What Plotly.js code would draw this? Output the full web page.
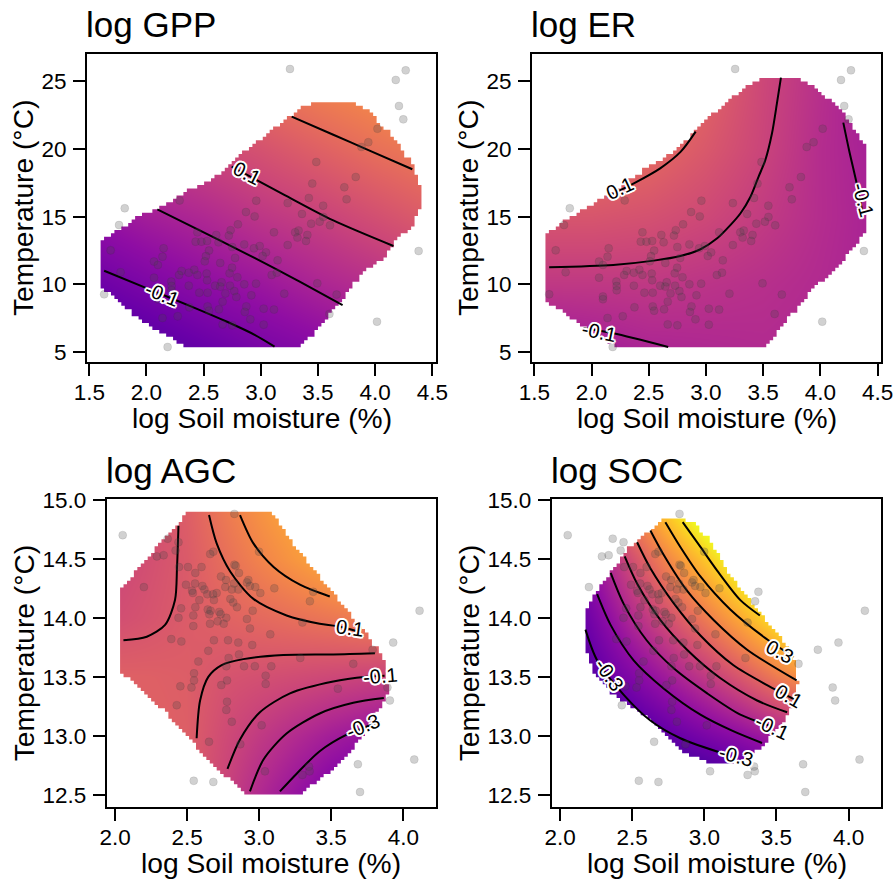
<!DOCTYPE html>
<html><head><meta charset="utf-8">
<script src="https://cdn.plot.ly/plotly-3.0.1.min.js"></script>
<style>html,body{margin:0;padding:0;background:#fff}</style></head>
<body><div id="chart" style="width:893px;height:879px"></div>
<script>
// ---------- observations ----------
const topX = [3.255,4.267,4.18,4.208,4.246,4.38,4.016,2.185,1.63,1.76,1.81,4.02,3.94,3.88,3.485,3.83,3.45,3.73,3.75,3.42,2.96,3.235,2.29,3.545,2.87,3.36,2.946,3.546,3.515,3.44,3.605,2.8,2.736,2.445,3.115,3.3,3.33,2.72,2.61,3.407,3.32,2.43,2.48,2.53,2.63,3.395,3.235,2.855,2.75,2.94,2.99,2.15,1.687,2.547,2.52,3.045,3.016,2.14,2.775,3.147,2.51,2.066,2.1,2.645,2.748,1.774,2.307,2.418,2.37,2.285,2.445,2.526,2.727,3.095,3.14,2.795,2.066,2.53,2.217,2.22,2.657,3.494,2.958,2.6,2.645,2.73,2.855,2.37,2.22,2.462,2.535,2.69,2.768,3.205,3.663,2.917,2.786,2.666,2.873,2.535,2.547,2.634,2.86,3.025,3.115,2.375,2.273,2.14,2.908,3.6,2.666,2.75,3.025,2.1,2.1];
const topY = [25.91,25.81,25.1,23.18,22.19,12.46,7.24,5.37,9.26,14.38,15.62,21.5,20.5,20.15,19.04,17.93,17.44,17.17,16.28,16.38,16.18,16.0,16.2,15.81,15.34,15.2,15.02,14.98,14.63,14.48,14.36,14.43,14.0,13.84,13.84,13.84,13.97,13.6,13.65,13.65,13.45,13.15,13.15,13.2,13.1,13.2,12.9,12.95,12.75,12.66,12.83,12.66,12.51,12.49,12.09,12.36,12.09,12.04,11.95,11.77,11.7,11.68,11.43,11.58,11.23,10.89,10.99,11.08,10.86,10.69,10.69,10.79,10.81,10.69,10.86,10.52,10.49,10.3,10.2,9.88,10.15,10.07,10.05,9.9,9.83,9.9,10.0,9.9,9.56,9.38,9.38,9.33,9.5,9.31,9.24,9.19,9.06,8.72,8.37,8.37,8.05,8.15,7.96,8.2,8.13,8.3,7.64,7.51,7.41,7.81,7.04,6.97,7.02,9.1,8.9];
const botX = [2.053,4.113,3.93,3.907,3.89,4.076,3.685,3.70,2.546,2.682,2.828,2.365,2.44,2.42,2.29,2.337,2.682,2.66,2.999,2.828,2.837,2.444,2.506,2.6,2.557,2.86,2.735,2.77,2.925,2.915,2.2,2.492,2.555,2.606,2.765,2.825,2.855,2.81,2.936,2.973,3.105,2.534,2.54,2.62,2.64,2.68,2.705,3.008,3.375,2.585,2.8,3.352,2.82,2.686,2.557,2.458,2.643,2.846,2.955,2.663,2.654,2.723,2.733,2.543,2.44,2.772,2.915,2.712,2.659,2.754,2.543,3.3,2.936,3.077,2.39,2.46,2.686,2.784,2.855,2.952,2.647,3.787,2.86,2.788,3.285,2.578,3.653,2.772,2.895,2.97,3.084,2.548,3.045,2.548,2.777,2.737,3.045,2.453,2.53,3.546,2.777,2.772,2.428,2.81,3.017,2.652,2.869,3.345,3.04,3.35,3.3];
const botY = [14.70,14.06,13.79,13.30,13.41,12.80,12.76,12.525,12.62,12.61,14.88,14.67,14.64,14.57,14.52,14.53,14.56,14.54,14.56,14.45,14.44,14.43,14.43,14.43,14.38,14.38,14.35,14.32,14.32,14.3,14.26,14.28,14.29,14.27,14.26,14.29,14.24,14.24,14.27,14.26,14.25,14.23,14.21,14.24,14.2,14.2,14.21,14.21,14.22,14.15,14.16,14.14,14.13,14.15,14.09,14.08,14.07,14.09,14.06,14.06,14.03,14.05,14.03,14.02,14.0,14.0,13.99,13.97,13.95,13.95,13.93,13.96,13.91,13.86,13.82,13.8,13.81,13.81,13.79,13.77,13.72,13.73,13.69,13.66,13.66,13.63,13.61,13.59,13.59,13.59,13.59,13.53,13.51,13.47,13.47,13.43,13.44,13.42,13.41,13.4,13.29,13.22,13.26,13.12,13.09,12.95,12.93,12.74,12.7,12.7,12.67];

// ---------- surfaces (rows follow the y arrays) ----------
const gppGridX = [1.5,2,2.5,3,3.5,4,4.5];
const gppGridY = [5,10,15,20,25];
const gppZ = [
 [-0.22,-0.19,-0.15,-0.11,-0.08,-0.04,-0.01],
 [-0.14,-0.10,-0.06,-0.03,0.01,0.04,0.08],
 [-0.05,-0.01,0.02,0.06,0.09,0.13,0.17],
 [0.04,0.07,0.11,0.14,0.18,0.22,0.25],
 [0.12,0.16,0.19,0.23,0.27,0.30,0.34]];
const erGridX = [1.5,2,2.5,3,3.5,4,4.5];
const erGridY = [5,10,15,20,26];
const erZ = [
 [-0.16,-0.13,-0.10,-0.09,-0.08,-0.09,-0.11],
 [-0.03,-0.03,-0.03,-0.045,-0.06,-0.08,-0.11],
 [0.07,0.07,0.055,0.025,-0.02,-0.07,-0.11],
 [0.18,0.17,0.14,0.08,0.01,-0.07,-0.12],
 [0.30,0.28,0.225,0.13,0.022,-0.058,-0.144]];
const botGridX = [2,2.25,2.5,2.75,3,3.25,3.5,3.75,4];
const botGridY = [12.5,13,13.5,14,14.5,15];
const agcZ = [
 [0.05,0.04,0.02,-0.09,-0.22,-0.33,-0.43,-0.50,-0.55],
 [0.05,0.045,0.03,-0.06,-0.14,-0.215,-0.28,-0.33,-0.38],
 [0.04,0.035,0.025,-0.02,-0.04,-0.06,-0.08,-0.10,-0.12],
 [-0.05,-0.02,0.015,0.045,0.075,0.105,0.135,0.17,0.20],
 [-0.09,-0.04,0.01,0.095,0.185,0.27,0.35,0.42,0.48],
 [-0.10,-0.05,0.03,0.15,0.26,0.36,0.46,0.55,0.62]];
const socZ = [
 [-0.55,-0.54,-0.53,-0.50,-0.46,-0.42,-0.38,-0.34,-0.30],
 [-0.50,-0.45,-0.39,-0.32,-0.26,-0.205,-0.14,-0.09,-0.04],
 [-0.45,-0.33,-0.24,-0.145,-0.05,0.055,0.17,0.26,0.35],
 [-0.39,-0.25,-0.10,0.035,0.17,0.31,0.46,0.60,0.74],
 [-0.36,-0.16,0.03,0.215,0.38,0.55,0.72,0.85,1.0],
 [-0.25,0.0,0.22,0.45,0.65,0.85,1.0,1.0,1.0]];

// ---------- fitted-region outlines ----------
const gppEdgeX = [1.611,1.681,1.914,2.176,2.351,2.526,2.759,3.051,3.255,3.357,3.474,3.78,3.926,4.071,4.217,4.334,4.398,4.398,4.334,4.188,4.071,3.867,3.751,3.605,3.43,3.337,2.366,2.089,1.885,1.681,1.611];
const gppEdgeY = [13.33,13.77,14.95,15.99,16.97,17.59,19.19,21.16,22.51,23.08,23.55,23.55,22.88,21.53,20.17,18.57,17.22,15.62,14.26,13.28,11.8,10.57,9.09,7.61,6.01,5.25,5.25,6.75,7.86,9.33,9.83];
const erEdgeX = [1.611,1.727,1.902,2.106,2.369,2.602,2.777,2.952,3.127,3.302,3.506,3.739,3.914,4.089,4.235,4.401,4.401,4.235,4.031,3.827,3.652,3.506,2.252,1.902,1.727,1.611];
const erEdgeY = [13.77,14.51,15.49,16.48,18.08,19.19,20.3,21.9,23.25,24.48,25.34,25.34,24.66,23.37,22.14,20.05,13.65,11.92,10.32,8.47,6.63,5.25,5.25,7.12,8.23,8.84];
const agcEdgeX = [2.042,2.243,2.439,2.485,3.08,3.237,3.399,3.607,3.768,3.872,3.896,3.745,3.56,3.399,3.311,2.925,2.705,2.497,2.243,2.042];
const agcEdgeY = [14.255,14.546,14.814,14.89,14.89,14.602,14.376,14.052,13.826,13.615,13.36,13.022,12.754,12.599,12.514,12.514,12.726,13.022,13.332,13.558];
const socEdgeX = [2.166,2.233,2.349,2.453,2.557,2.673,2.73,2.823,2.939,3.043,3.181,3.297,3.412,3.528,3.632,3.648,3.574,3.435,3.297,3.158,3.019,2.834,2.603,2.372,2.233,2.166];
const socEdgeY = [14.024,14.193,14.39,14.574,14.687,14.8,14.842,14.848,14.786,14.63,14.348,14.179,13.981,13.826,13.615,13.445,13.135,12.937,12.81,12.754,12.782,12.895,13.163,13.361,13.558,13.812];

// ---------- contour lines ----------
const gppLines = [
 {x:[1.63,2.0,2.41,2.7,2.95,3.12], y:[11.0,9.72,8.3,7.25,6.25,5.4]},
 {x:[2.095,2.615,3.05,3.34,3.715], y:[15.54,13.35,11.5,10.2,8.47]},
 {x:[2.745,3.197,3.634,4.16], y:[18.7,16.65,14.72,12.83]},
 {x:[3.27,3.634,3.926,4.325], y:[22.39,21.05,19.97,18.5]}];
const erLines = [
 {x:[1.63,2.19,2.544,2.777,2.952,3.098,3.215,3.302,3.39,3.46,3.519,3.577,3.62,3.655], y:[11.26,11.43,11.75,12.09,12.59,13.4,14.39,15.25,16.49,17.96,19.19,21.16,23.37,25.27]},
 {x:[2.135,2.37,2.6,2.78,2.91], y:[16.48,17.46,18.57,19.8,21.28]},
 {x:[1.93,2.19,2.67], y:[6.75,6.38,5.37]},
 {x:[4.2,4.25,4.32,4.37], y:[21.95,19.93,17.34,15.2]}];
const agcLines = [
 {x:[2.867,2.96,3.10,3.283,3.49], y:[14.87,14.63,14.43,14.28,14.18]},
 {x:[2.652,2.705,2.8,2.96,3.19,3.42,3.537,3.7], y:[14.87,14.63,14.39,14.16,14.02,13.95,13.93,13.88]},
 {x:[2.44,2.43,2.416,2.347,2.22,2.058], y:[14.78,14.43,14.15,13.94,13.84,13.81]},
 {x:[2.566,2.59,2.647,2.74,2.89,3.167,3.514,3.803], y:[12.98,13.3,13.5,13.6,13.65,13.685,13.69,13.7]},
 {x:[2.78,2.867,3.005,3.214,3.514,3.745,3.87], y:[12.72,12.97,13.2,13.36,13.46,13.5,13.51]},
 {x:[2.936,3.03,3.19,3.42,3.653,3.865], y:[12.53,12.8,13.02,13.19,13.28,13.32]},
 {x:[3.144,3.26,3.42,3.607,3.84], y:[12.53,12.68,12.87,13.01,13.12]}];
const socLines = [
 {x:[2.85,2.973,3.089,3.25,3.385], y:[14.81,14.6,14.40,14.15,14.02]},
 {x:[2.73,2.834,2.973,3.18,3.41,3.62], y:[14.81,14.6,14.35,14.07,13.84,13.67]},
 {x:[2.626,2.72,2.88,3.066,3.297,3.64], y:[14.74,14.53,14.23,13.98,13.73,13.47]},
 {x:[2.534,2.626,2.79,2.973,3.2,3.435,3.64], y:[14.64,14.42,14.12,13.85,13.6,13.43,13.3]},
 {x:[2.448,2.534,2.696,2.88,3.11,3.366,3.574], y:[14.52,14.29,13.98,13.73,13.49,13.3,13.2]},
 {x:[2.351,2.44,2.6,2.79,3.02,3.25,3.47], y:[14.38,14.12,13.81,13.57,13.36,13.18,13.08]},
 {x:[2.257,2.35,2.51,2.72,2.973,3.2,3.4], y:[14.2,13.94,13.64,13.4,13.18,13.04,12.94]},
 {x:[2.176,2.257,2.44,2.626,2.834,3.158], y:[13.9,13.64,13.35,13.13,12.98,12.84]}];

// ---------- contour labels ----------
const gppLabels = [{t:'0.1',x:2.876,y:18.2,a:27},{t:'-0.1',x:2.133,y:9.29,a:22}];
const erLabels = [{t:'0.1',x:2.252,y:17.09,a:-25},{t:'-0.1',x:4.375,y:16.23,a:75},{t:'-0.1',x:2.069,y:6.5,a:12}];
const agcLabels = [{t:'0.1',x:3.63,y:13.91,a:8},{t:'-0.1',x:3.838,y:13.51,a:-5},{t:'-0.3',x:3.722,y:13.08,a:-22}];
const socLabels = [{t:'0.3',x:3.528,y:13.713,a:28},{t:'0.1',x:3.586,y:13.338,a:30},{t:'-0.1',x:3.47,y:13.078,a:25},{t:'-0.3',x:3.223,y:12.83,a:15},{t:'-0.3',x:2.342,y:13.516,a:55}];

const titles = ['log GPP','log ER','log AGC','log SOC'];
const xTitle = 'log Soil moisture (%)';
const yTitle = 'Temperature (°C)';
const plasma = [[0,'#0d0887'],[0.1,'#41049d'],[0.2,'#6a00a8'],[0.3,'#8f0da4'],[0.4,'#b12a90'],[0.5,'#cc4778'],[0.6,'#e16462'],[0.7,'#f2844b'],[0.8,'#fca636'],[0.9,'#fcce25'],[1,'#f0f921']];

const W = 893, H = 879;
const FONT = '"Liberation Sans", Arial, sans-serif';
const panels = [
 {box:[87,436,53.7,362], xr:[1.48,4.532], yr:[4.26,27.04], dy:5, yf:'d', gx:gppGridX, gy:gppGridY, z:gppZ, zr:[-0.303,0.517], ex:gppEdgeX, ey:gppEdgeY, lines:gppLines, labels:gppLabels, px:topX, py:topY},
 {box:[532,881.3,53.7,362], xr:[1.48,4.532], yr:[4.26,27.04], dy:5, yf:'d', gx:erGridX, gy:erGridY, z:erZ, zr:[-0.48,0.52], ex:erEdgeX, ey:erEdgeY, lines:erLines, labels:erLabels, px:topX, py:topY},
 {box:[106.7,436,499,807], xr:[1.942,4.227], yr:[12.398,15.006], dy:0.5, yf:'.1f', gx:botGridX, gy:botGridY, z:agcZ, zr:[-0.767,0.603], ex:agcEdgeX, ey:agcEdgeY, lines:agcLines, labels:agcLabels, px:botX, py:botY},
 {box:[551.7,881.3,499,807], xr:[1.942,4.227], yr:[12.398,15.006], dy:0.5, yf:'.1f', gx:botGridX, gy:botGridY, z:socZ, zr:[-0.5,0.5], ex:socEdgeX, ey:socEdgeY, lines:socLines, labels:socLabels, px:botX, py:botY}
];

// Follow an outline on the fit's raster so its edge shows the same blocky steps.
function rasterEdge(ex, ey, dx, dy) {
  const ox = [], oy = [];
  const snapX = v => Math.round(v / dx) * dx, snapY = v => Math.round(v / dy) * dy;
  let lx = null, ly = null;
  const n = ex.length;
  for (let i = 0; i < n; i++) {
    const j = (i + 1) % n;
    const steps = Math.max(2, Math.ceil(Math.max(Math.abs(ex[j]-ex[i])/dx, Math.abs(ey[j]-ey[i])/dy)));
    for (let s = 0; s < steps; s++) {
      const u = s / steps;
      const sx = snapX(ex[i] + (ex[j]-ex[i])*u), sy = snapY(ey[i] + (ey[j]-ey[i])*u);
      if (lx !== null && sx !== lx && sy !== ly) { ox.push(sx); oy.push(ly); }
      ox.push(sx); oy.push(sy); lx = sx; ly = sy;
    }
  }
  return [ox, oy];
}

const halo = [[-2,0],[2,0],[0,-2],[0,2],[-1.5,-1.5],[1.5,-1.5],[-1.5,1.5],[1.5,1.5]].map(o => o[0]+'px '+o[1]+'px 0 #fff').join(', ');

const data = [], annotations = [];
const layout = {width:W, height:H, margin:{l:0,r:0,t:0,b:0}, paper_bgcolor:'#fff', plot_bgcolor:'#fff', showlegend:false, font:{family:FONT, color:'#000'}};

panels.forEach((p, i) => {
  const n = i === 0 ? '' : String(i+1);
  const xa = 'x'+n, ya = 'y'+n;
  const axisBase = {showgrid:false, zeroline:false, showline:true, mirror:true, linecolor:'#000', linewidth:2, ticks:'outside', ticklen:12, tickwidth:2, tickcolor:'#000', tickfont:{size:22.5, family:FONT, color:'#000'}, layer:'above traces', ticklabeloverflow:'allow'};
  layout['xaxis'+n] = Object.assign({}, axisBase, {anchor:ya, domain:[p.box[0]/W, p.box[1]/W], range:p.xr, tick0:0, dtick:0.5, tickformat:'.1f', ticklabelstandoff:-3});
  layout['yaxis'+n] = Object.assign({}, axisBase, {anchor:xa, domain:[1-p.box[3]/H, 1-p.box[2]/H], range:p.yr, tick0:0, dtick:p.dy, tickformat:p.yf, ticklabelstandoff:2, title:{text:yTitle, font:{size:28.2, family:FONT, color:'#000'}, standoff:0}});

  data.push({type:'heatmap', x:p.gx, y:p.gy, z:p.z, zmin:p.zr[0], zmax:p.zr[1], colorscale:plasma, showscale:false, zsmooth:'best', xaxis:xa, yaxis:ya, hoverinfo:'skip'});

  const stepX = 3.45*(p.xr[1]-p.xr[0])/(p.box[1]-p.box[0]);
  const stepY = 3.45*(p.yr[1]-p.yr[0])/(p.box[3]-p.box[2]);
  const e = rasterEdge(p.ex, p.ey, stepX, stepY);
  const rx = [p.xr[0]-1, p.xr[1]+1, p.xr[1]+1, p.xr[0]-1, p.xr[0]-1];
  const ry = [p.yr[0]-1, p.yr[0]-1, p.yr[1]+1, p.yr[1]+1, p.yr[0]-1];
  data.push({type:'scatter', mode:'none', fill:'toself', fillcolor:'#fff', x:rx.concat([null], e[0]), y:ry.concat([null], e[1]), xaxis:xa, yaxis:ya, hoverinfo:'skip'});

  p.lines.forEach(l => data.push({type:'scatter', mode:'lines', x:l.x, y:l.y, line:{color:'#000', width:2, shape:'spline', smoothing:0.8}, xaxis:xa, yaxis:ya, hoverinfo:'skip'}));

  data.push({type:'scatter', mode:'markers', x:p.px, y:p.py, marker:{size:8, color:'rgba(70,70,70,0.25)', line:{width:0.7, color:'rgba(40,40,40,0.14)'}}, xaxis:xa, yaxis:ya, hoverinfo:'skip'});

  p.labels.forEach(l => annotations.push({xref:xa, yref:ya, x:l.x, y:l.y, text:l.t, showarrow:false, textangle:l.a, font:{size:20, family:FONT, color:'#000', shadow:halo}}));

  annotations.push({xref:'paper', yref:'paper', x:(p.box[0]-3)/W, y:1-(p.box[2]-29)/H, xanchor:'left', yanchor:'middle', text:titles[i], showarrow:false, font:{size:35, family:FONT, color:'#000'}});
  annotations.push({xref:'paper', yref:'paper', x:(p.box[0]+p.box[1])/2/W, y:1-(p.box[3]+56)/H, xanchor:'center', yanchor:'middle', text:xTitle, showarrow:false, font:{size:28.2, family:FONT, color:'#000'}});
});
layout.annotations = annotations;
Plotly.newPlot('chart', data, layout, {displayModeBar:false, staticPlot:true});
</script></body></html>
